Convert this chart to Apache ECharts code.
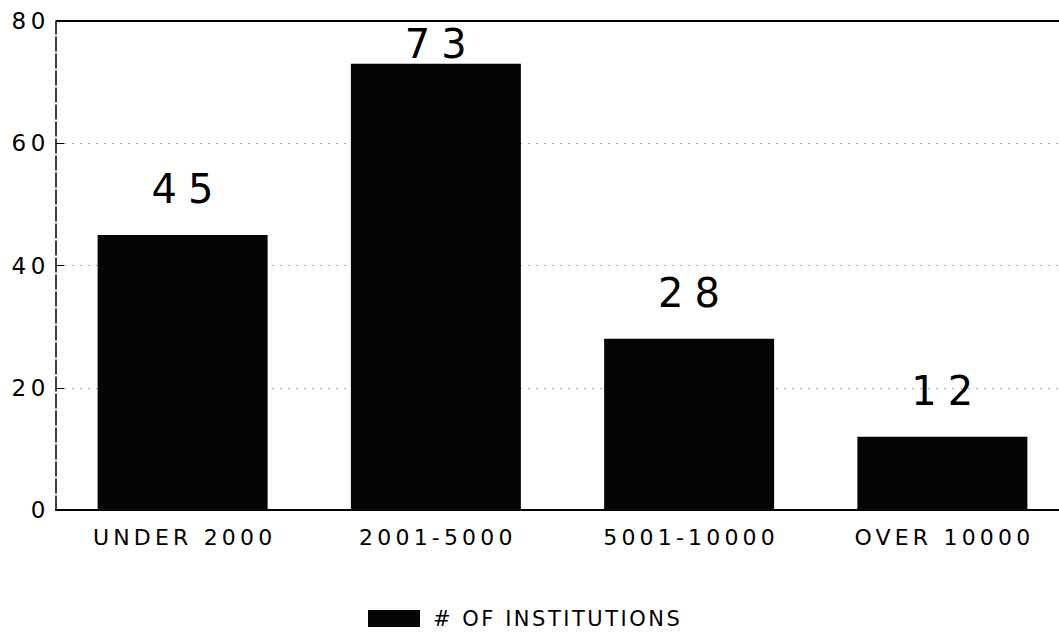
<!DOCTYPE html>
<html><head><meta charset="utf-8">
<script src="https://cdn.jsdelivr.net/npm/echarts@6/dist/echarts.min.js"></script>
<style>
html,body{margin:0;padding:0;background:#fff}
#c{width:1059px;height:639px}
#c text[style*="40px"], #c text[font-size="40"], #c text[font-size="40px"]{letter-spacing:0.28em}
#c text[style*="22px"], #c text[font-size="22"], #c text[font-size="22px"]{letter-spacing:0.19em}
#c text[style*="21px"], #c text[font-size="21"], #c text[font-size="21px"]{letter-spacing:0.12em}
#c text[style*="23px"], #c text[font-size="23"], #c text[font-size="23px"]{letter-spacing:0.2em}
</style>
</head><body><div id="c"></div>
<script>
const categories = ['UNDER 2000', '2001-5000', '5001-10000', 'OVER 10000'];
const institutions = [45, 73, 28, 12];
const yTicks = [0, 20, 40, 60, 80];
const seriesName = '# OF INSTITUTIONS';
const yMax = 80;

const FONT = 'DejaVu Sans, Liberation Sans, sans-serif';
const chart = echarts.init(document.getElementById('c'), null, { renderer: 'svg' });
// labels of bars too close to the frame top sit tight on the bar (as in the original)
const barData = institutions.map(v => (yMax - v) < 10 ? { value: v, label: { distance: 0 } } : v);
chart.setOption({
  animation: false,
  backgroundColor: '#fff',
  textStyle: { fontFamily: FONT },
  grid: { left: 56, right: -10, top: 21, bottom: 129, show: false, outerBoundsMode: 'none', containLabel: false },
  legend: {
    data: [seriesName], bottom: 5, left: 363,
    icon: 'rect',
    itemWidth: 52, itemHeight: 17, itemGap: 14,
    textStyle: { fontSize: 21, color: '#000', fontFamily: FONT, padding: [0, 0, 0, 8] }
  },
  xAxis: {
    type: 'category', data: categories,
    axisLine: { lineStyle: { color: '#000', width: 2 } },
    axisTick: { show: false },
    axisLabel: { fontSize: 22, color: '#000', margin: 16, fontFamily: FONT, padding: [0, 0, 0, 4] }
  },
  yAxis: [{
    type: 'value', min: 0, max: yMax, interval: 20,
    axisLine: { show: true, lineStyle: { color: '#000', width: 1.5, type: [14, 3] } },
    axisTick: { show: true, inside: true, length: 8, lineStyle: { color: '#000' } },
    axisLabel: { fontSize: 23, color: '#000', margin: 6, fontFamily: FONT, formatter: v => yTicks.includes(v) ? String(v) : '' },
    splitLine: { show: true, lineStyle: { color: '#aaa', type: [2, 6], width: 1 } }
  }],
  graphic: [{
    type: 'line', z: 100, shape: { x1: 56, y1: 21, x2: 1059, y2: 21 },
    style: { stroke: '#000', lineWidth: 2 }
  }],
  series: [{
    name: seriesName, type: 'bar', data: barData,
    barWidth: 170,
    itemStyle: { color: '#050505' },
    label: { show: true, position: 'top', distance: 26, fontSize: 40, color: '#000', fontFamily: FONT, padding: [0, 0, 0, 11] }
  }]
});
</script></body></html>
